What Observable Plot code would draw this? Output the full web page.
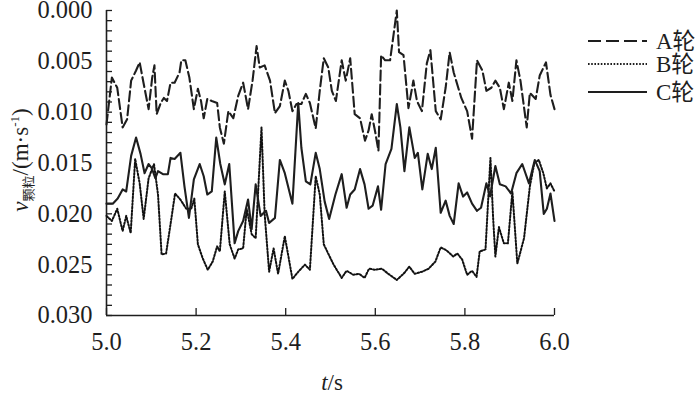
<!DOCTYPE html>
<html><head><meta charset="utf-8">
<script src="https://cdn.jsdelivr.net/npm/d3@7"></script>
<script src="https://cdn.jsdelivr.net/npm/@observablehq/plot@0.6"></script>
<style>
body{margin:0;background:#fff}
#chart{position:relative;width:700px;height:396px}
#chart g[aria-label="y-axis tick label"], #chart g[aria-label="x-axis tick label"]{font-size:24.5px;font-family:"Liberation Serif","Times New Roman",serif}
</style>
</head><body><div id="chart"></div>
<script>
// Series A (dashed)
const tA = [5.000,5.012,5.024,5.036,5.046,5.055,5.066,5.074,5.083,5.094,5.102,5.107,5.112,5.121,5.128,5.135,5.143,5.152,5.163,5.167,5.176,5.185,5.195,5.204,5.211,5.217,5.225,5.235,5.247,5.253,5.262,5.272,5.283,5.294,5.305,5.316,5.326,5.335,5.342,5.353,5.365,5.376,5.387,5.398,5.406,5.415,5.424,5.435,5.445,5.454,5.467,5.476,5.485,5.495,5.503,5.512,5.525,5.534,5.544,5.554,5.566,5.577,5.585,5.592,5.600,5.607,5.613,5.622,5.633,5.641,5.648,5.653,5.663,5.674,5.685,5.693,5.704,5.715,5.723,5.735,5.746,5.757,5.766,5.775,5.792,5.805,5.816,5.827,5.839,5.848,5.859,5.868,5.878,5.887,5.898,5.906,5.915,5.924,5.938,5.945,5.958,5.967,5.981,5.991,6.000];
const vA = [0.0112,0.0066,0.0076,0.0115,0.0107,0.0069,0.0059,0.0051,0.0072,0.0097,0.0066,0.0054,0.0102,0.0091,0.0086,0.0089,0.0071,0.0071,0.0061,0.0049,0.0049,0.0066,0.0097,0.0077,0.0089,0.0106,0.0087,0.0089,0.0091,0.0115,0.0131,0.0099,0.0106,0.0084,0.0071,0.0097,0.0069,0.0035,0.0056,0.0054,0.0069,0.0101,0.0094,0.0069,0.0079,0.0099,0.0092,0.0092,0.0082,0.0091,0.0116,0.0079,0.0047,0.0056,0.0079,0.0089,0.0049,0.0069,0.0047,0.0102,0.0106,0.0128,0.0118,0.0102,0.0120,0.0138,0.0044,0.0049,0.0049,0.0023,0.0000,0.0041,0.0044,0.0096,0.0069,0.0089,0.0099,0.0052,0.0039,0.0099,0.0107,0.0076,0.0041,0.0061,0.0086,0.0099,0.0126,0.0049,0.0059,0.0079,0.0076,0.0069,0.0076,0.0097,0.0071,0.0089,0.0049,0.0069,0.0115,0.0081,0.0087,0.0064,0.0051,0.0083,0.0097];
// Series B (dotted)
const tB = [5.000,5.012,5.024,5.036,5.044,5.054,5.064,5.074,5.083,5.094,5.106,5.115,5.123,5.133,5.144,5.153,5.165,5.178,5.189,5.196,5.204,5.215,5.226,5.237,5.247,5.253,5.264,5.275,5.286,5.294,5.305,5.313,5.324,5.333,5.346,5.353,5.363,5.373,5.383,5.398,5.415,5.428,5.443,5.454,5.467,5.476,5.485,5.497,5.507,5.525,5.536,5.551,5.564,5.576,5.586,5.600,5.615,5.629,5.648,5.663,5.676,5.688,5.704,5.719,5.734,5.746,5.759,5.774,5.783,5.794,5.805,5.816,5.826,5.833,5.846,5.857,5.863,5.868,5.876,5.887,5.896,5.906,5.917,5.932,5.945,5.955,5.965,5.975,5.983,5.991,6.000];
const vB = [0.0202,0.0207,0.0195,0.0217,0.0202,0.0219,0.0146,0.0170,0.0205,0.0165,0.0151,0.0181,0.0240,0.0239,0.0207,0.0180,0.0186,0.0195,0.0195,0.0185,0.0230,0.0244,0.0255,0.0247,0.0232,0.0237,0.0178,0.0230,0.0244,0.0235,0.0234,0.0195,0.0220,0.0224,0.0115,0.0200,0.0257,0.0234,0.0259,0.0222,0.0264,0.0257,0.0250,0.0255,0.0163,0.0181,0.0230,0.0241,0.0250,0.0263,0.0256,0.0260,0.0259,0.0263,0.0254,0.0255,0.0254,0.0259,0.0265,0.0259,0.0252,0.0259,0.0257,0.0254,0.0247,0.0233,0.0236,0.0242,0.0239,0.0245,0.0260,0.0256,0.0262,0.0237,0.0235,0.0145,0.0204,0.0242,0.0213,0.0229,0.0229,0.0178,0.0249,0.0224,0.0173,0.0150,0.0147,0.0160,0.0175,0.0170,0.0178];
// Series C (solid)
const tC = [5.000,5.014,5.025,5.036,5.044,5.055,5.066,5.076,5.085,5.094,5.101,5.109,5.115,5.126,5.137,5.143,5.152,5.165,5.174,5.184,5.195,5.208,5.217,5.225,5.235,5.245,5.254,5.264,5.274,5.286,5.294,5.305,5.316,5.324,5.333,5.344,5.356,5.363,5.376,5.387,5.398,5.415,5.428,5.435,5.445,5.455,5.467,5.476,5.487,5.497,5.511,5.525,5.536,5.544,5.554,5.566,5.576,5.585,5.594,5.606,5.613,5.623,5.636,5.648,5.656,5.665,5.676,5.688,5.695,5.705,5.717,5.726,5.735,5.746,5.757,5.766,5.775,5.786,5.796,5.805,5.816,5.827,5.836,5.848,5.856,5.868,5.878,5.891,5.903,5.915,5.928,5.943,5.956,5.967,5.976,5.983,5.991,6.000];
const vC = [0.0190,0.0190,0.0185,0.0176,0.0178,0.0143,0.0125,0.0141,0.0160,0.0151,0.0155,0.0165,0.0158,0.0161,0.0161,0.0145,0.0146,0.0140,0.0173,0.0204,0.0166,0.0151,0.0163,0.0181,0.0178,0.0125,0.0151,0.0171,0.0151,0.0229,0.0217,0.0207,0.0186,0.0215,0.0171,0.0202,0.0197,0.0209,0.0204,0.0147,0.0160,0.0190,0.0091,0.0135,0.0168,0.0171,0.0140,0.0156,0.0188,0.0205,0.0181,0.0161,0.0194,0.0181,0.0176,0.0156,0.0171,0.0195,0.0192,0.0173,0.0196,0.0151,0.0136,0.0092,0.0115,0.0158,0.0115,0.0145,0.0140,0.0176,0.0141,0.0156,0.0135,0.0199,0.0187,0.0202,0.0210,0.0170,0.0183,0.0179,0.0190,0.0197,0.0194,0.0170,0.0183,0.0153,0.0171,0.0173,0.0180,0.0160,0.0151,0.0170,0.0147,0.0158,0.0200,0.0195,0.0180,0.0207];

const seriesNames = ["A轮", "B轮", "C轮"];
const xTicks = [5.0, 5.2, 5.4, 5.6, 5.8, 6.0];
const yTicks = [0.000, 0.005, 0.010, 0.015, 0.020, 0.025, 0.030];
const yMinorTicks = d3.range(0, 0.0305, 0.001);

const toRows = (t, v) => t.map((d, i) => ({t: d, v: v[i]}));
const dataA = toRows(tA, vA), dataB = toRows(tB, vB), dataC = toRows(tC, vC);

const INK = "#1e1e1e";
const FONT = "'Liberation Serif','Times New Roman','Noto Sans CJK SC',serif";

const plot = Plot.plot({
  width: 700, height: 396,
  marginLeft: 106, marginRight: 146, marginTop: 10, marginBottom: 81,
  style: {fontFamily: FONT, fontSize: "24px", color: INK, background: "#fff"},
  x: {domain: [5, 6]},
  y: {domain: [0, 0.03], reverse: true},
  marks: [
    Plot.axisY(yMinorTicks, {anchor: "left", tickSize: -6, tickFormat: () => "", label: null, stroke: INK, strokeWidth: 1.3}),
    Plot.axisY(yTicks, {anchor: "left", tickSize: 0, tickPadding: 14, tickFormat: d3.format(".3f"), label: null, fill: INK}),
    Plot.axisX(xTicks, {anchor: "bottom", tickSize: -7, tickPadding: 24, tickFormat: d3.format(".1f"), label: null, stroke: INK, strokeWidth: 1.3, fill: INK}),
    Plot.ruleX([5], {stroke: INK, strokeWidth: 1.6}),
    Plot.ruleY([0.03], {stroke: INK, strokeWidth: 1.6}),
    Plot.line(dataA, {x: "t", y: "v", stroke: INK, strokeWidth: 2.1, strokeDasharray: "10,4"}),
    Plot.line(dataB, {x: "t", y: "v", stroke: "#111", strokeWidth: 2, strokeDasharray: "1.6,1.8"}),
    Plot.line(dataC, {x: "t", y: "v", stroke: INK, strokeWidth: 2.1})
  ]
});
document.getElementById("chart").appendChild(plot);

const svg = d3.select(plot);
// Legend
const legendStyles = [
  {dash: "13,5", w: 2},
  {dash: "1.6,1.6", w: 1.8},
  {dash: null, w: 2}
];
const legendY = [41, 64, 92];
seriesNames.forEach((name, i) => {
  const g = svg.append("g");
  g.append("line").attr("x1", 588).attr("x2", 647).attr("y1", legendY[i]).attr("y2", legendY[i])
    .attr("stroke", INK).attr("stroke-width", legendStyles[i].w)
    .attr("stroke-dasharray", legendStyles[i].dash);
  g.append("text").attr("x", 656).attr("y", legendY[i]).attr("dy", "0.35em")
    .attr("text-anchor", "start")
    .attr("font-family", FONT).attr("font-size", 23).attr("fill", INK).text(name);
});

// Y axis label
const yl = svg.append("text")
  .attr("transform", "translate(28,160) rotate(-90)")
  .attr("text-anchor", "middle")
  .attr("font-family", FONT).attr("font-size", 23).attr("fill", INK);
yl.append("tspan").attr("font-style", "italic").text("v");
yl.append("tspan").attr("font-size", 13).attr("dy", 5).text("颗粒");
yl.append("tspan").attr("dy", -5).text("/(m·s");
yl.append("tspan").attr("font-size", 13).attr("dy", -9).text("-1");
yl.append("tspan").attr("dy", 9).text(")");

// X axis label
const xl = svg.append("text")
  .attr("x", 332).attr("y", 390).attr("text-anchor", "middle")
  .attr("font-family", FONT).attr("font-size", 23).attr("fill", INK);
xl.append("tspan").attr("font-style", "italic").text("t");
xl.append("tspan").text("/s");
</script>
</body></html>
